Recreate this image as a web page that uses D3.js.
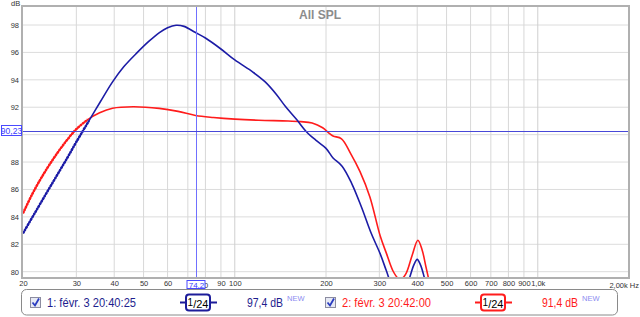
<!DOCTYPE html>
<html>
<head>
<meta charset="UTF-8"/>
<title>All SPL</title>
<script src="https://d3js.org/d3.v7.min.js"></script>
<style>
body { margin: 0; background: #fff; font-family: 'Liberation Sans', Arial, sans-serif; }
svg { display: block; }
.grid line { stroke: #dcdcdc; stroke-width: 1; }
.tick text { font-size: 7.5px; fill: #333; }
</style>
</head>
<body>
<svg width="640" height="317"></svg>
<script>
// measurement 1 (blue)
const blueFreq = [20, 22, 24, 26, 28, 30, 33, 36, 39.5, 43, 47.7, 52, 56.4, 60, 64, 68, 74.2, 80, 90, 100, 115, 126, 137, 147, 160, 172, 185, 200, 211, 226, 243, 262, 282, 302, 316, 330, 350, 365, 378, 390, 400, 410, 422, 440];
const blueDb   = [82.8, 84.37, 85.8, 87.1, 88.3, 89.47, 91.0, 92.4, 93.85, 94.95, 96.0, 96.8, 97.45, 97.8, 97.98, 97.9, 97.45, 97.05, 96.25, 95.45, 94.55, 93.85, 92.95, 92.05, 91.1, 90.23, 89.6, 89.0, 88.3, 87.7, 86.45, 84.7, 82.8, 81.3, 80.1, 79.0, 78.3, 78.6, 79.6, 80.5, 80.9, 80.5, 79.6, 78.0];
// measurement 2 (red)
const redFreq = [20, 21.5, 23.2, 25.3, 27.7, 30, 32.7, 35.8, 39.5, 46.2, 56.3, 65, 74.2, 85, 100, 120, 150, 165, 180, 195, 205, 211, 225, 241, 259, 279, 302, 317, 332, 345, 356, 368, 385, 402, 415, 428, 440];
const redDb   = [84.26, 85.7, 87.0, 88.3, 89.5, 90.4, 91.1, 91.6, 91.93, 92.04, 91.92, 91.7, 91.4, 91.25, 91.13, 91.05, 91.0, 90.95, 90.85, 90.5, 90.1, 89.9, 89.7, 88.64, 87.3, 85.47, 82.6, 81.3, 80.1, 79.55, 79.5, 79.9, 81.2, 82.3, 81.6, 80.3, 79.1];

const xTicks = [20, 30, 40, 50, 60, 70, 80, 90, 100, 200, 300, 400, 500, 600, 700, 800, 900, 1000];
const xTickLabels = ['20', '30', '40', '50', '60', '70', '80', '90', '100', '200', '300', '400', '500', '600', '700', '800', '900', '1,0k'];
const yTicks = [80, 82, 84, 86, 88, 90, 92, 94, 96, 98];

const cursorFreq = 74.2;
const cursorDb = 90.23;
const thickUntil = 34;

const legendItems = [
  { name: '1: févr. 3 20:40:25', level: '97,4 dB', color: '#1c1c9a', text: '#1e1e8e' },
  { name: '2: févr. 3 20:42:00', level: '91,4 dB', color: '#ff1c1c', text: '#ff1c1c' }
];

const svg = d3.select('svg');
const pLeft = 23, pRight = 629, pTop = 6, pBottom = 278;

const x = d3.scaleLog().domain([20, 2000]).range([pLeft, pRight]);
const y = d3.scaleLinear().domain([80, 98]).range([271.7, 25]);

svg.append('defs').append('clipPath').attr('id', 'plotclip')
  .append('rect').attr('x', pLeft).attr('y', pTop).attr('width', pRight - pLeft).attr('height', pBottom - pTop);

// grid
svg.append('g').attr('class', 'grid')
  .selectAll('line').data(yTicks).join('line')
  .attr('x1', pLeft).attr('x2', pRight)
  .attr('y1', d => y(d)).attr('y2', d => y(d));

svg.append('g').attr('class', 'grid')
  .selectAll('line').data(xTicks.filter(d => d > 20).concat([2000])).join('line')
  .attr('x1', d => x(d)).attr('x2', d => x(d))
  .attr('y1', pTop).attr('y2', pBottom)
  .style('stroke', d => (d === 100 || d === 1000) ? '#cfcfcf' : '#d8d8d8');

// axes (labels only); 90 dB and 70 Hz labels sit under the cursor boxes
const yAxis = svg.append('g')
  .attr('transform', `translate(${pLeft - 3},0)`)
  .call(d3.axisLeft(y).tickValues(yTicks.filter(d => d !== 90)).tickSize(0).tickPadding(1).tickFormat(d3.format('d')));
yAxis.select('.domain').remove();
yAxis.selectAll('text').style('font-family', "'Liberation Sans', Arial, sans-serif");

const xAxis = svg.append('g')
  .attr('transform', `translate(0,${pBottom})`)
  .call(d3.axisBottom(x).tickValues(xTicks).tickSize(0).tickPadding(3)
    .tickFormat((d, i) => xTickLabels[i]));
xAxis.select('.domain').remove();
xAxis.selectAll('text').style('font-family', "'Liberation Sans', Arial, sans-serif");
xAxis.selectAll('.tick').filter(d => d === 70 || d === 80).remove();

svg.append('text').attr('x', 204).attr('y', 288)
  .style('font-size', '7.5px').style('fill', '#333').text('0');

svg.append('text').attr('x', 639).attr('y', 288).attr('text-anchor', 'end')
  .style('font-size', '7.5px').style('fill', '#333').text('2,00k Hz');

svg.append('text').attr('x', 11).attr('y', 6)
  .style('font-size', '7.5px').style('fill', '#333').text('dB');

// title
svg.append('text').attr('x', 320).attr('y', 19).attr('text-anchor', 'middle')
  .style('font-size', '12px').style('font-weight', 'bold').style('fill', '#8c8c8c')
  .text('All SPL');

// curves
const plot = svg.append('g').attr('clip-path', 'url(#plotclip)');
const line = d3.line().x(d => x(d[0])).y(d => y(d[1])).curve(d3.curveCatmullRom.alpha(0.5));

function drawSeries(freq, db, color) {
  const pts = freq.map((f, i) => [f, db[i]]);
  plot.append('path').datum(pts)
    .attr('d', line).attr('fill', 'none')
    .attr('stroke', color).attr('stroke-width', 1.6);
  plot.append('path').datum(pts.filter(p => p[0] <= thickUntil))
    .attr('d', line).attr('fill', 'none')
    .attr('stroke', color).attr('stroke-width', 2.4)
    .attr('stroke-dasharray', '2.2 0.8');
}
drawSeries(redFreq, redDb, '#ff1c1c');
drawSeries(blueFreq, blueDb, '#1c1ca6');

// cursors
svg.append('line')
  .attr('x1', Math.round(x(cursorFreq)) + 0.5).attr('x2', Math.round(x(cursorFreq)) + 0.5)
  .attr('y1', pTop).attr('y2', pBottom)
  .attr('stroke', '#7070ff').attr('stroke-width', 1);
svg.append('line')
  .attr('x1', pLeft).attr('x2', pRight)
  .attr('y1', Math.round(y(cursorDb)) + 0.5).attr('y2', Math.round(y(cursorDb)) + 0.5)
  .attr('stroke', '#4848d8').attr('stroke-width', 1);

// frame
svg.append('rect')
  .attr('x', pLeft - 1).attr('y', pTop).attr('width', pRight - pLeft + 1).attr('height', pBottom - pTop)
  .attr('fill', 'none').attr('stroke', '#b0b0b0').attr('stroke-width', 2);

// cursor value boxes
const cy = Math.round(y(cursorDb));
svg.append('rect').attr('x', 1.5).attr('y', cy - 5.5).attr('width', 20).attr('height', 10)
  .attr('fill', '#fff').attr('stroke', '#4a4aff');
svg.append('text').attr('x', 11.5).attr('y', cy + 3).attr('text-anchor', 'middle')
  .style('font-size', '8.5px').style('fill', '#3a3aff').text('90,23');

const cx = Math.round(x(cursorFreq)) + 0.5;
svg.append('rect').attr('x', cx - 9.5).attr('y', 280.5).attr('width', 18).attr('height', 8)
  .attr('fill', '#fff').attr('stroke', '#4a4aff');
svg.append('text').attr('x', cx).attr('y', 287.5).attr('text-anchor', 'middle')
  .style('font-size', '8px').style('fill', '#3a3aff').text('74,2');

// legend
svg.append('rect').attr('x', 21.5).attr('y', 289.5).attr('width', 596).attr('height', 25.5)
  .attr('rx', 5).attr('fill', '#fff').attr('stroke', '#8a8a8a');

const slots = [0, 295];
legendItems.forEach((it, i) => {
  const g = svg.append('g').attr('transform', `translate(${slots[i]},0)`);
  g.append('rect').attr('x', 30.5).attr('y', 297.5).attr('width', 10).attr('height', 10)
    .attr('fill', '#e6e9f4').attr('stroke', '#8c8ca0');
  g.append('path').attr('d', 'M32.5,302.5 L35,305.5 L39,298.5')
    .attr('fill', 'none').attr('stroke', '#2a3cc0').attr('stroke-width', 1.8);
  g.append('text').attr('x', 47).attr('y', 307)
    .attr('textLength', 89).attr('lengthAdjust', 'spacingAndGlyphs')
    .style('font-size', '12px').style('fill', it.text).text(it.name);
  g.append('line').attr('x1', 180).attr('x2', 217).attr('y1', 302.5).attr('y2', 302.5)
    .attr('stroke', it.color).attr('stroke-width', 2);
  g.append('rect').attr('x', 186).attr('y', 294.5).attr('width', 24).attr('height', 16)
    .attr('rx', 3).attr('fill', '#fff').attr('stroke', it.color).attr('stroke-width', 2);
  const t = g.append('text').attr('x', 198).attr('y', 308).attr('text-anchor', 'middle')
    .style('font-size', '11px').style('fill', '#000');
  t.append('tspan').attr('dy', -2).style('font-size', '10px').text('1');
  t.append('tspan').attr('dy', 2).text('/24');
  g.append('text').attr('x', 247).attr('y', 307)
    .attr('textLength', 36).attr('lengthAdjust', 'spacingAndGlyphs')
    .style('font-size', '12px').style('fill', it.text).text(it.level);
  g.append('text').attr('x', 287).attr('y', 301)
    .style('font-size', '7.5px').style('fill', '#8c8cf0').text('NEW');
});
</script>
</body>
</html>
